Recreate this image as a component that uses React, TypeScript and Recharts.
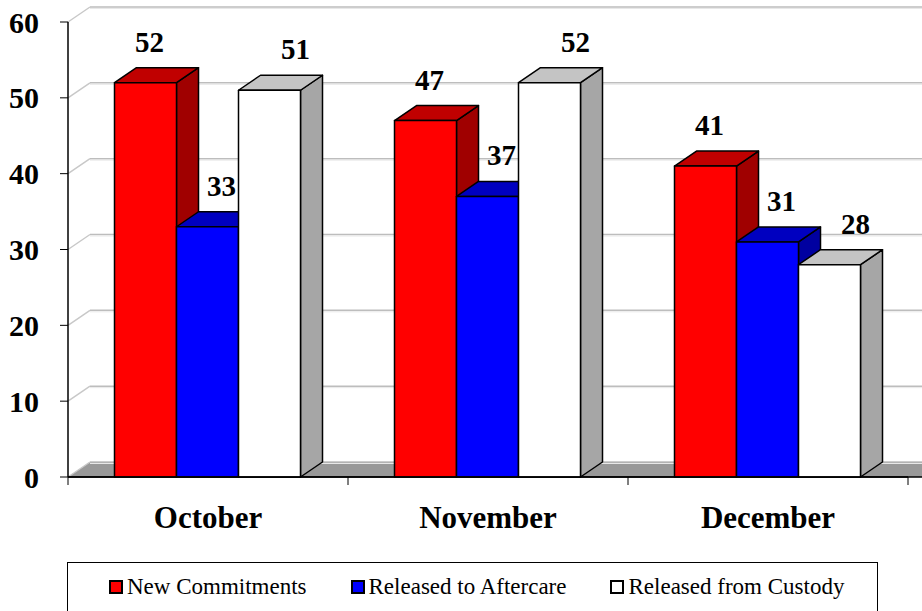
import React from "react";
import { BarChart, Bar, XAxis, YAxis, CartesianGrid, Legend, LabelList } from "recharts";

const months = ["October", "November", "December"];
const newCommitments = [52, 47, 41];
const releasedToAftercare = [33, 37, 31];
const releasedFromCustody = [51, 52, 28];
const yTicks = [0, 10, 20, 30, 40, 50, 60];

const data = months.map((month, i) => ({
  month,
  commit: newCommitments[i],
  aftercare: releasedToAftercare[i],
  custody: releasedFromCustody[i],
}));

// 3D depth of the fake Excel perspective
const DX = 22;
const DY = 15;
const FONT = '"Liberation Serif", "Times New Roman", serif';

const series = [
  { key: "commit", name: "New Commitments", front: "#ff0000", top: "#c00000", side: "#a00000", labelDx: 4 },
  { key: "aftercare", name: "Released to Aftercare", front: "#0000ff", top: "#0000c0", side: "#0000a0", labelDx: 14 },
  { key: "custody", name: "Released from Custody", front: "#ffffff", top: "#c4c4c4", side: "#a6a6a6", labelDx: 26 },
];

const box3d = (top: string, side: string) => (props: any) => {
  const { x, y, width, height, fill } = props;
  if (width == null || height == null) return null;
  const r = x + width;
  const b = y + height;
  return (
    <g stroke="#000" strokeWidth={1.5} strokeLinejoin="round">
      <polygon points={`${r},${y} ${r + DX},${y - DY} ${r + DX},${b - DY} ${r},${b}`} fill={side} />
      <polygon points={`${x},${y} ${x + DX},${y - DY} ${r + DX},${y - DY} ${r},${y}`} fill={top} />
      <rect x={x} y={y} width={width} height={height} fill={fill} />
    </g>
  );
};

const gridLine = (props: any) => {
  const { x1, y1, x2, y, height } = props;
  const isFloor = Math.abs(y1 - (y + height)) < 1;
  const bx = x1 + DX;
  const by = y1 - DY;
  const far = x2 + DX + 40;
  return (
    <g key={`g-${y1}`}>
      {isFloor && (
        <polygon points={`${x1},${y1} ${bx},${by} ${far},${by} ${far},${y1}`} fill="#999999" />
      )}
      <line x1={x1} y1={y1} x2={bx} y2={by} stroke="#c8c8c8" strokeWidth={1.5} />
      <line x1={bx} y1={by} x2={far} y2={by} stroke="#bdbdbd" strokeWidth={1.5} />
      <line x1={bx} y1={by + 1.5} x2={far} y2={by + 1.5} stroke="#e8e8e8" strokeWidth={1} />
      {isFloor && <line x1={x1} y1={y1} x2={far} y2={y1} stroke="#000" strokeWidth={1.5} />}
    </g>
  );
};

const MonthTick = (props: any) => {
  const { x, y, payload, index } = props;
  const half = payload?.offset || 140;
  return (
    <g>
      <line x1={x - half} y1={y} x2={x - half} y2={y + 8} stroke="#000" />
      {index === months.length - 1 && <line x1={x + half} y1={y} x2={x + half} y2={y + 8} stroke="#000" />}
      <text
        x={x}
        y={y + 40}
        textAnchor="middle"
        dominantBaseline="central"
        fontFamily={FONT}
        fontWeight="bold"
        fontSize={31}
        fill="#000"
      >
        {payload.value}
      </text>
    </g>
  );
};

const valueLabel = (dx: number) => (props: any) => {
  const vb = props.viewBox ?? props;
  const x = props.x ?? vb.x;
  const y = props.y ?? vb.y;
  const width = props.width ?? vb.width;
  return (
    <text
      x={x + width / 2 + dx}
      y={y - 41}
      textAnchor="middle"
      dominantBaseline="central"
      fontFamily={FONT}
      fontWeight="bold"
      fontSize={29}
      fill="#000"
    >
      {props.value}
    </text>
  );
};

const LegendBox = () => (
  <div
    style={{
      boxSizing: "border-box",
      width: 811,
      height: 49,
      border: "1px solid #000",
      borderBottom: "none",
      display: "flex",
      alignItems: "center",
      paddingLeft: 41,
      gap: 44,
      fontFamily: FONT,
      fontSize: 23,
      color: "#000",
      background: "#fff",
    }}
  >
    {series.map((s) => (
      <div key={s.key} style={{ display: "flex", alignItems: "center", gap: 4 }}>
        <span
          style={{
            display: "inline-block",
            boxSizing: "border-box",
            width: 14,
            height: 14,
            border: "2px solid #000",
            background: s.front,
          }}
        />
        <span>{s.name}</span>
      </div>
    ))}
  </div>
);

export default function App() {
  return (
    <div style={{ position: "absolute", left: 0, top: 0, background: "#fff" }}>
      <BarChart
        width={922}
        height={611}
        data={data}
        margin={{ top: 22, right: 14, left: 0, bottom: 0 }}
        barCategoryGap={46.5}
        barGap={0}
      >
        <CartesianGrid vertical={false} horizontal={gridLine} />
        <XAxis
          dataKey="month"
          height={85}
          tickLine={false}
          tickSize={0}
          tickMargin={0}
          axisLine={{ stroke: "#000", strokeWidth: 1.5 }}
          tick={<MonthTick />}
          interval={0}
        />
        <YAxis
          width={68}
          domain={[0, 60]}
          ticks={yTicks}
          interval={0}
          tickSize={8}
          tickMargin={21}
          axisLine={{ stroke: "#000", strokeWidth: 1.5 }}
          tickLine={{ stroke: "#000" }}
          tick={{ fontFamily: FONT, fontWeight: "bold", fontSize: 30, fill: "#000" }}
        />
        <Legend
          verticalAlign="bottom"
          align="left"
          wrapperStyle={{ left: 67, bottom: 0, width: 811, height: 49 }}
          content={() => <LegendBox />}
        />
        {series.map((s) => (
          <Bar
            key={s.key}
            dataKey={s.key}
            name={s.name}
            fill={s.front}
            shape={box3d(s.top, s.side)}
            isAnimationActive={false}
          >
            <LabelList dataKey={s.key} content={valueLabel(s.labelDx)} />
          </Bar>
        ))}
      </BarChart>
    </div>
  );
}
